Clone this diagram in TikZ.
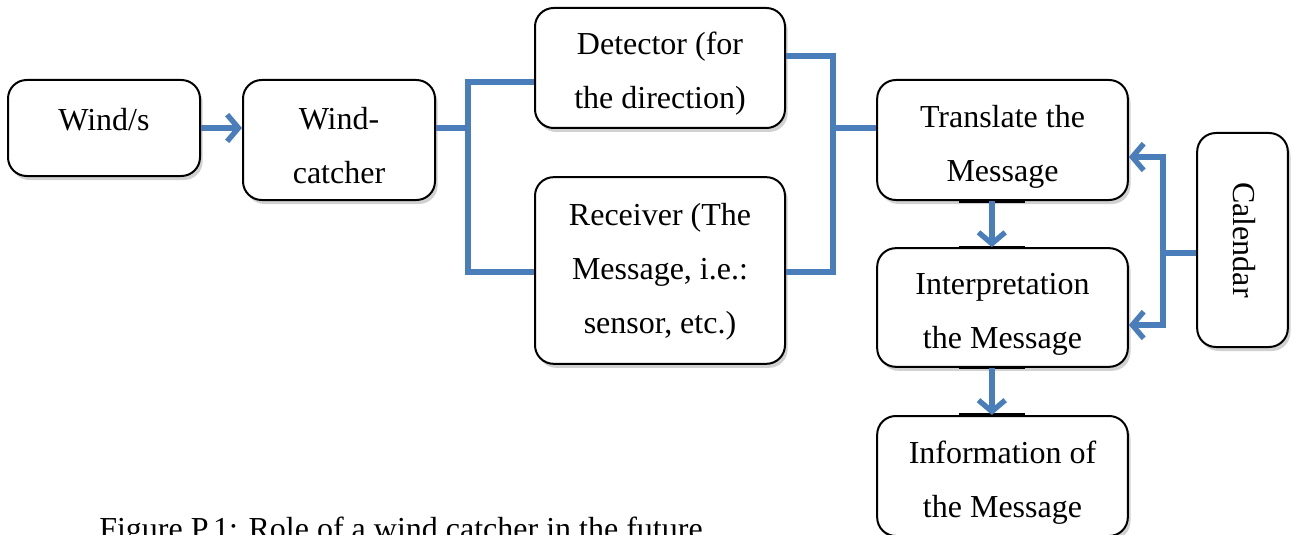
\documentclass[tikz,border=0pt]{standalone}
\usepackage{fontspec}
\setmainfont{Liberation Serif}
\usetikzlibrary{arrows.meta,shadows}
\definecolor{conn}{HTML}{4A7EBB}
\begin{document}
\begin{tikzpicture}[x=0.75pt,y=-0.75pt,
  box/.style={draw=black, line width=1.5pt, rounded corners=14pt, fill=white,
    inner sep=0pt,
    drop shadow={shadow xshift=2pt, shadow yshift=-3pt, opacity=0.18, fill=black}},
  txt/.style={align=center, font=\fontsize{24}{40.5}\selectfont, inner sep=0pt},
  link/.style={draw=conn, line width=4pt},
  arr/.style={link, -{Straight Barb[length=8.5pt,width=20pt]}},
  edgemark/.style={draw=black, line width=2.4pt},
  captxt/.style={font=\fontsize{24}{28}\selectfont, inner sep=0pt}]
\useasboundingbox (0,0) rectangle (1293,535);

% boxes
\node[box, minimum width=144pt, minimum height=72pt] (winds) at (104,128) {};
\node[box, minimum width=144pt, minimum height=90pt] (catch) at (339,140) {};
\node[box, minimum width=187.5pt, minimum height=90pt] (det) at (660,68) {};
\node[box, minimum width=187.5pt, minimum height=140pt] (rec) at (660,270.5) {};
\node[box, minimum width=188pt, minimum height=90pt] (trans) at (1002.5,140) {};
\node[box, minimum width=188pt, minimum height=89pt] (interp) at (1002.5,307.5) {};
\node[box, minimum width=188pt, minimum height=90pt] (info) at (1002.5,476) {};
\node[box, minimum width=68pt, minimum height=160.5pt] (cal) at (1242.5,240) {};

% texts
\node[txt] (windsT) at ([yshift=6pt]winds.center) {Wind/s};
\node[txt] (catchT) at ([yshift=-4pt]catch.center) {Wind-\\catcher};
\node[txt] (detT) at ([yshift=-4pt]det.center) {Detector (for\\the direction)};
\node[txt] (recT) at ([yshift=-1pt]rec.center) {Receiver (The\\Message, i.e.:\\sensor, etc.)};
\node[txt] (transT) at ([yshift=-5pt]trans.center) {Translate the\\Message};
\node[txt] (interpT) at ([yshift=-5pt]interp.center) {Interpretation\\the Message};
\node[txt] (infoT) at ([yshift=-5pt]info.center) {Information of\\the Message};
\node[txt, rotate=-90] (calT) at ([xshift=1.5pt]cal.center) {Calendar};

% connectors
\draw[arr] (winds.east) -- (catch.west |- winds.east);

\coordinate (jm) at (468,128);
\coordinate (jt) at (468,82);
\coordinate (jb) at (468,272);
\draw[link] (catch.east |- jm) -- (jm);
\draw[link] (det.west |- jt) -- (jt) -- (jb) -- (rec.west |- jb);

\coordinate (kt) at (833,56);
\coordinate (km) at (833,128);
\coordinate (kb) at (833,272);
\draw[link] (det.east |- kt) -- (kt) -- (kb) -- (rec.east |- kb);
\draw[link] (km) -- (trans.west |- km);

\draw[edgemark] ([xshift=-33pt]trans.south) -- ([xshift=17pt]trans.south);
\draw[edgemark] ([xshift=-33pt]interp.north) -- ([xshift=17pt]interp.north);
\draw[edgemark] ([xshift=-33pt]interp.south) -- ([xshift=17pt]interp.south);
\draw[edgemark] ([xshift=-33pt]info.north) -- ([xshift=17pt]info.north);

\draw[arr] ([xshift=-8pt]trans.south) -- ([xshift=-8pt]interp.north);
\draw[arr] ([xshift=-8pt]interp.south) -- ([xshift=-8pt]info.north);

\coordinate (cm) at (1163,253);
\coordinate (ct) at (1163,157);
\coordinate (cb) at (1163,325);
\draw[link] (cal.west |- cm) -- (cm);
\draw[arr] (cm) -- (ct) -- (trans.east |- ct);
\draw[arr] (cm) -- (cb) -- (interp.east |- cb);

\node[captxt, anchor=base west] (cap) at (99,539) {Figure P.1: Role of a wind catcher in the future};
\end{tikzpicture}
\end{document}
